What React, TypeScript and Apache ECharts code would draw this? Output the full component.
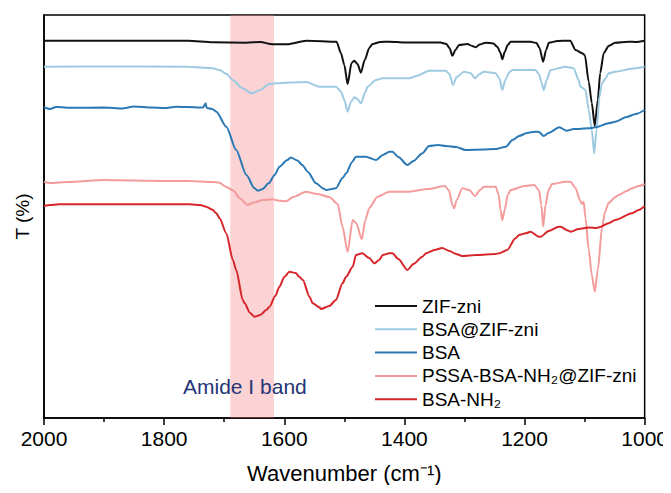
import React, { useEffect, useRef } from "react";
import * as echarts from "echarts";

// Wavenumber (cm-1), transmittance (arbitrary units, curves offset)
const zifZni: number[][] = [
  [2000, 377.3], [1900, 377.3], [1760, 377.3], [1719, 375.7], [1663, 375.3], [1640, 376], [1620, 373.7], [1595, 373.7],
  [1563, 377.3], [1513, 376.3], [1505.5, 364.7], [1500, 353], [1494.5, 334], [1488, 355], [1483.4, 357.3], [1478, 354],
  [1472.5, 345.3], [1466, 358], [1458.5, 370], [1453, 374], [1440, 376], [1425, 376.3], [1400, 375.5], [1340, 375.5],
  [1330, 374], [1325, 370], [1320, 362.3], [1315, 368], [1309, 373], [1295, 374], [1287, 372], [1281, 370.7],
  [1275, 373.5], [1264.6, 375.3], [1252, 374.5], [1245, 371], [1240, 365], [1237, 358.7], [1233, 366], [1228, 373],
  [1223, 376.3], [1190, 376.3], [1180, 375], [1175, 370], [1169, 356.3], [1164, 368], [1159.5, 375.3], [1145, 377],
  [1124, 377.3], [1115, 368], [1104, 364.7], [1099.6, 363], [1093, 336], [1088, 315], [1083, 292], [1078, 318],
  [1074, 345], [1068, 365], [1060, 372], [1049, 375.3], [1027, 376.3], [1015, 376], [1000, 377.3],
];

const bsaZif: number[][] = [
  [2000, 351.3], [1900, 351.5], [1760, 351.3], [1719, 349.7], [1708, 348], [1696, 344], [1686, 338], [1670, 330],
  [1655, 324.7], [1640, 328], [1625, 334], [1613.5, 334.7], [1590, 335.5], [1563.6, 336], [1541.5, 331.3],
  [1513.8, 331.3], [1505.5, 326.3], [1500, 318], [1494.5, 306.3], [1489, 316], [1483.4, 320.7], [1478, 319],
  [1472.3, 314.7], [1465, 326], [1461.3, 331.3], [1447.3, 338], [1436, 339.7], [1392, 339.7], [1380, 342],
  [1358.8, 347.3], [1331, 347.3], [1325, 344], [1319, 333], [1313, 341], [1300.7, 346.3], [1290, 345],
  [1282.4, 339.7], [1275, 344], [1267.4, 346.3], [1248, 344.7], [1242, 340], [1237, 328], [1232, 338], [1225, 346],
  [1220, 348], [1182, 348], [1176, 344], [1172, 336], [1168, 328], [1163, 338], [1156.7, 348], [1131.8, 351.3],
  [1118, 349.7], [1110, 338], [1106.8, 331.3], [1098.5, 328], [1093, 308], [1088, 288], [1084, 264.7], [1080, 288],
  [1075.3, 321.3], [1071, 334.7], [1065, 339.7], [1060, 344.7], [1048.7, 346.3], [1020, 349.5], [1000, 351.3],
];

const bsa: number[][] = [
  [2000, 310.7], [1990, 309], [1980, 311], [1950, 310.2], [1900, 310.5], [1870, 309.6], [1850, 311.5], [1820, 310.4],
  [1800, 310], [1780, 311.2], [1760, 311], [1740, 310.5], [1735, 310.5], [1731, 314.7], [1729, 310], [1720, 309],
  [1713, 306.3], [1696.5, 291.3], [1680, 268], [1663, 243], [1650, 230], [1644, 227.3], [1636, 229], [1626, 234.7],
  [1616, 243], [1608, 251.3], [1595, 258], [1589, 260.5], [1578, 257.5], [1570, 253], [1561, 246.3], [1547, 234.7],
  [1535, 229.5], [1530, 228], [1514, 229.7], [1503, 240], [1497, 244.7], [1487, 256], [1480.6, 261.3], [1464, 261.3],
  [1447, 258], [1436, 263], [1425, 266.3], [1420, 266.3], [1410, 261], [1395, 253], [1385, 257], [1370, 264.7],
  [1359, 272], [1344, 273], [1331, 272], [1314, 271], [1298, 268], [1270, 268.5], [1248, 269], [1231, 271.3],
  [1220, 278], [1209, 282], [1196, 285], [1182, 286.3], [1176, 286], [1168, 282], [1160, 285], [1142, 290.7],
  [1130, 287.3], [1118, 289], [1093, 289.7], [1080, 291], [1060, 294.7], [1049, 296.3], [1030, 301], [1015, 304],
  [1000, 308],
];

const pssaBsaNh2Zif: number[][] = [
  [2000, 236.3], [1990, 235], [1960, 236], [1900, 238], [1850, 237.5], [1800, 237], [1760, 237], [1719, 236],
  [1708, 235.3], [1697, 231.3], [1685, 227.5], [1674, 219.7], [1661, 213], [1650, 215.5], [1636, 218], [1620, 218.7],
  [1608, 217.3], [1597, 216.8], [1585, 221], [1564, 226.3], [1545, 224], [1525, 221], [1511, 214], [1503, 191.3],
  [1494.5, 166.3], [1486, 198], [1480, 194.7], [1471, 178.7], [1465, 198], [1458.5, 210], [1444.7, 221.3],
  [1425, 226.3], [1392, 226.3], [1360, 229], [1333, 232], [1326, 228], [1320, 213], [1317, 209.7], [1313, 218],
  [1303.5, 229.7], [1292, 228], [1282.4, 222], [1274, 228], [1267.4, 231.3], [1248, 231.3], [1243, 223], [1240, 208],
  [1237, 198], [1233, 208], [1228, 223], [1223, 228], [1200, 232], [1184, 233], [1176, 228], [1172, 213],
  [1168.9, 191.5], [1165, 213], [1160, 228], [1154, 234], [1132, 236.3], [1123, 236], [1115, 230], [1108, 218],
  [1104, 214], [1101.5, 216.3], [1098.5, 200], [1093, 168], [1088, 143], [1083, 126.3], [1078, 148], [1071, 190],
  [1066, 206], [1060, 215], [1048.7, 221], [1043, 223], [1030, 227], [1021, 229.7], [1010, 232], [1000, 234],
];

const bsaNh2: number[][] = [
  [2000, 212], [1990, 213], [1975, 213.7], [1900, 213.7], [1800, 213.7], [1757, 213.7], [1740, 213], [1730, 211.3],
  [1720, 208.5], [1713, 204.7], [1707.6, 199.7], [1696.5, 184.7], [1685.5, 158], [1680, 148], [1669, 118],
  [1666, 114.7], [1657, 105], [1649.5, 101.3], [1640, 103], [1630, 108], [1624.6, 111.3], [1615, 122], [1608, 131.3],
  [1600, 141], [1591.4, 146.3], [1581, 145], [1575, 141.3], [1569, 138], [1558, 121.3], [1552.7, 114.7],
  [1541.5, 110.7], [1539, 109], [1525, 112], [1514, 118], [1503, 134.7], [1497, 141.3], [1486, 151.3], [1480.6, 163],
  [1470, 164.7], [1458.5, 160], [1450, 154.7], [1442, 158], [1436, 163], [1425, 164.7], [1420, 164.7], [1410, 159],
  [1395, 148], [1385, 154], [1370, 161.3], [1364, 164.7], [1350, 168], [1337, 170], [1325, 167], [1314, 164],
  [1303.5, 162], [1280, 163], [1248, 164], [1242, 164.7], [1229, 168], [1215, 179.7], [1209, 183], [1198, 184.7],
  [1190, 186.3], [1176, 181.3], [1173, 181.3], [1160, 187], [1143, 191.3], [1140, 191.3], [1128, 187.5],
  [1123, 186.3], [1110, 189], [1093, 190.5], [1080, 190], [1076, 190.7], [1060, 194.7], [1049, 198], [1021, 204.7],
  [1010, 208], [1000, 212],
];

const seriesNames = ["ZIF-zni", "BSA@ZIF-zni", "BSA", "PSSA-BSA-NH\u2082@ZIF-zni", "BSA-NH\u2082"];
const seriesData = [zifZni, bsaZif, bsa, pssaBsaNh2Zif, bsaNh2];
const seriesColors = ["#111111", "#9ecae1", "#2a78b4", "#f49c9c", "#d7262b"];

const amideBand = [1690, 1617];
const xTicks = { min: 1000, max: 2000, interval: 200 };

const FONT = "'Liberation Sans', Arial, Helvetica, sans-serif";

export default function App() {
  const ref = useRef<HTMLDivElement>(null);

  useEffect(() => {
    if (!ref.current) return;
    const chart = echarts.init(ref.current, undefined, { renderer: "svg" });
    const lines = seriesNames.map((name, i) => ({
      name,
      type: "line",
      data: seriesData[i],
      symbol: "none",
      smooth: 0.25,
      smoothMonotone: "x",
      color: seriesColors[i],
      lineStyle: { color: seriesColors[i], width: 2 },
      z: 2 + i,
    }));
    const band = {
      name: "__band",
      type: "line",
      data: [[1650, 200]],
      symbol: "none",
      lineStyle: { opacity: 0 },
      silent: true,
      z: 20,
      markArea: {
        silent: true,
        itemStyle: { color: "rgba(245,130,135,0.35)" },
        data: [[{ xAxis: amideBand[0] }, { xAxis: amideBand[1] }]],
      },
    };
    chart.setOption({
      animation: false,
      textStyle: { fontFamily: FONT },
      grid: {
        left: 44,
        right: 25,
        top: 15,
        bottom: 75,
        show: true,
        borderColor: "#000",
        borderWidth: 1.5,
        backgroundColor: "transparent",
      },
      legend: {
        data: seriesNames,
        orient: "vertical",
        left: 370,
        top: 291,
        icon: "rect",
        itemWidth: 42,
        itemHeight: 2,
        itemGap: 3.3,
        textStyle: { fontSize: 19, color: "#000", fontFamily: FONT, lineHeight: 20 },
      },
      xAxis: {
        type: "value",
        min: xTicks.min,
        max: xTicks.max,
        interval: xTicks.interval,
        inverse: true,
        name: "Wavenumber (cm\u207B\u00B9)",
        nameLocation: "middle",
        nameGap: 44,
        nameTextStyle: { fontSize: 22, color: "#000", fontFamily: FONT },
        axisLine: { show: true, lineStyle: { color: "#000", width: 1.5 } },
        axisTick: { show: true, length: 7, lineStyle: { color: "#000", width: 1.5 } },
        minorTick: { show: true, splitNumber: 2, length: 4, lineStyle: { color: "#000", width: 1.5 } },
        axisLabel: {
          fontSize: 21,
          color: "#000",
          margin: 10,
          fontFamily: FONT,
          formatter: (v: number) => String(v),
        },
        splitLine: { show: false },
      },
      yAxis: {
        type: "value",
        min: 0,
        max: 403,
        name: "T (%)",
        nameLocation: "middle",
        nameGap: 12,
        nameRotate: 90,
        nameTextStyle: { fontSize: 19, color: "#000", fontFamily: FONT },
        axisLine: { show: true, lineStyle: { color: "#000", width: 1.5 } },
        axisTick: { show: false },
        axisLabel: { show: false },
        splitLine: { show: false },
      },
      graphic: [
        {
          type: "text",
          left: 183,
          top: 376,
          z: 30,
          style: {
            text: "Amide I band",
            fontSize: 21,
            fill: "#253575",
            fontFamily: FONT,
          },
        },
      ],
      series: [...lines, band],
    });
    return () => chart.dispose();
  }, []);

  return <div ref={ref} style={{ width: 671, height: 493, margin: -8 }} />;
}
